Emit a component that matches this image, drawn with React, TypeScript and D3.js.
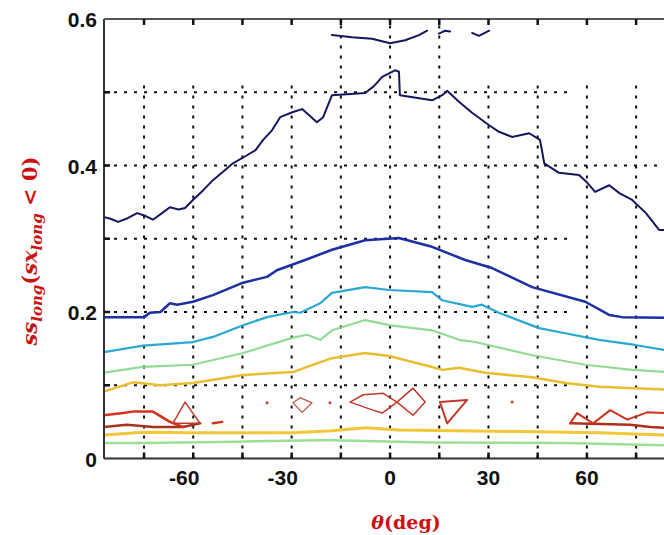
import React from "react";
import * as d3 from "d3";

// ---- data (theta in deg, value) ----
const navyTopA: [number, number][] = [[-17.7,0.578],[-11.6,0.575],[-5.5,0.573],[0,0.567],[4.6,0.571],[8.8,0.578],[11.3,0.584]];
const navyTopB: [number, number][] = [[14.9,0.580],[16.8,0.584],[18.3,0.583]];
const navyTopC: [number, number][] = [[25,0.581],[27.1,0.577],[30.2,0.584]];
const navyMain: [number, number][] = [[-87.5,0.330],[-85,0.327],[-82.9,0.323],[-80,0.328],[-77.1,0.335],[-74.5,0.331],[-72.3,0.326],[-69.5,0.335],[-67.1,0.343],[-64.5,0.340],[-62.5,0.342],[-60.1,0.353],[-57,0.366],[-54.0,0.380],[-51,0.391],[-47.9,0.403],[-43.6,0.414],[-41,0.421],[-38.7,0.435],[-36,0.448],[-33.5,0.466],[-29.6,0.473],[-26.8,0.477],[-24.5,0.468],[-22.3,0.459],[-20.4,0.466],[-17.7,0.496],[-7.6,0.499],[-5,0.508],[-2.4,0.521],[1.5,0.530],[2.7,0.528],[3.0,0.496],[12.8,0.489],[15.9,0.496],[17.4,0.502],[21.0,0.487],[25,0.472],[30.2,0.455],[33.2,0.446],[37.2,0.439],[42.4,0.444],[45.7,0.435],[47.0,0.403],[51.5,0.390],[57.6,0.387],[60,0.377],[62.5,0.364],[66.8,0.373],[70,0.362],[73.8,0.353],[78,0.335],[82.0,0.312],[84,0.312]];
const blueLine: [number, number][] = [[-87.5,0.193],[-75,0.193],[-73.2,0.199],[-70,0.200],[-67.1,0.212],[-64.9,0.210],[-60.1,0.214],[-54,0.223],[-44.8,0.240],[-37.5,0.248],[-34.5,0.257],[-25.9,0.271],[-17.7,0.285],[-7.6,0.298],[2.7,0.301],[12.8,0.289],[22.9,0.271],[31.1,0.260],[43.3,0.234],[59.5,0.214],[66.8,0.196],[70.7,0.193],[84,0.192]];
const cyanLine: [number, number][] = [[-87.5,0.145],[-75.3,0.154],[-60.1,0.159],[-54,0.166],[-44.8,0.182],[-37.5,0.193],[-29.6,0.200],[-27.4,0.199],[-21.3,0.212],[-17.7,0.226],[-7.6,0.234],[-0.3,0.230],[12.8,0.227],[15.9,0.216],[25,0.207],[28,0.210],[33.2,0.199],[45.4,0.178],[53.4,0.171],[63.7,0.162],[74.7,0.155],[84,0.148]];
const greenLine: [number, number][] = [[-87.5,0.117],[-75.3,0.125],[-60.1,0.128],[-44.8,0.144],[-29.6,0.165],[-25.3,0.169],[-21.3,0.162],[-17.7,0.175],[-7.6,0.189],[-0.3,0.182],[12.8,0.175],[21,0.162],[25.9,0.159],[43.3,0.141],[59.5,0.128],[73.8,0.121],[84,0.118]];
const yellowLine: [number, number][] = [[-87.5,0.091],[-78.4,0.104],[-70.1,0.100],[-60.1,0.103],[-44.8,0.114],[-29.6,0.118],[-25.3,0.125],[-17.7,0.137],[-7.6,0.144],[-0.3,0.140],[12.8,0.125],[15.9,0.121],[21,0.124],[29,0.117],[43.3,0.111],[53.4,0.103],[63.7,0.098],[84,0.094]];
const goldLow: [number, number][] = [[-87.5,0.032],[-75.3,0.036],[-60.1,0.035],[-29.6,0.035],[-17.7,0.038],[-7.6,0.042],[2.7,0.039],[53.4,0.036],[63.7,0.035],[84,0.032]];
const greenLow: [number, number][] = [[-87.5,0.021],[-75.3,0.021],[-47,0.023],[-21.3,0.025],[-17.7,0.025],[12.8,0.022],[53.4,0.021],[84,0.018]];
const redUpperLeft: [number, number][] = [[-87.5,0.059],[-81.4,0.062],[-78.4,0.064],[-72.3,0.064],[-67.1,0.050],[-63.1,0.043]];
const redLowerLeft: [number, number][] = [[-87.5,0.043],[-80.2,0.046],[-72.3,0.043],[-63.1,0.043],[-57.9,0.048]];
const redTriangleL: [number, number][] = [[-66.2,0.048],[-62.5,0.077],[-57.9,0.048],[-66.2,0.048]];
const redDash: [number, number][] = [[-54,0.048],[-51.2,0.050]];
const redDiamondL: [number, number][] = [[-29.6,0.076],[-27.4,0.083],[-23.8,0.076],[-26.8,0.063],[-29.6,0.076]];
const redDiamondC1: [number, number][] = [[-12.2,0.077],[-8.2,0.087],[-2.1,0.089],[2.1,0.077],[-2.4,0.062],[-5.2,0.066],[-12.2,0.077]];
const redDiamondC2: [number, number][] = [[2.1,0.077],[7,0.096],[10.7,0.077],[7,0.059],[2.1,0.077]];
const redTriangleR: [number, number][] = [[15.2,0.077],[23.5,0.080],[17.4,0.048],[15.2,0.077]];
const redDots: [number, number][] = [[-37.5,0.076],[-18.3,0.076],[37.2,0.077]];
const redUpperRight: [number, number][] = [[54.9,0.048],[57,0.062],[61.9,0.048],[67.1,0.066],[72.3,0.053],[78.4,0.063],[84,0.062]];
const redLowerRight: [number, number][] = [[54.9,0.048],[73.2,0.046],[79.3,0.043],[84,0.042]];

const xTickLabels = [-60, -30, 0, 30, 60];
const xGrid = [-75, -60, -45, -30, -15, 0, 15, 30, 45, 60, 75];
const yTickLabels = [0, 0.2, 0.4, 0.6];
const yGrid = [0.1, 0.2, 0.3, 0.4, 0.5];

const W = 664, H = 535;
const L = 104, R = 664, T = 19, B = 458.5;

export default function App() {
  const x = d3.scaleLinear().domain([-87.2, 83.5]).range([L, R]);
  const y = d3.scaleLinear().domain([0, 0.6]).range([B, T]);
  const line = d3.line<[number, number]>().x(d => x(d[0])).y(d => y(d[1]));

  const series: { d: [number, number][]; c: string; w: number; o?: number }[] = [
    { d: greenLow, c: "#8fdc8a", w: 2.5, o: 0.9 },
    { d: goldLow, c: "#f2c83a", w: 3 },
    { d: yellowLine, c: "#e9be2e", w: 2.5 },
    { d: greenLine, c: "#86d68a", w: 2.2, o: 0.9 },
    { d: cyanLine, c: "#2aa8d4", w: 2.2 },
    { d: blueLine, c: "#1e2fa6", w: 2.5 },
    { d: navyMain, c: "#15165e", w: 2 },
    { d: navyTopA, c: "#15165e", w: 2 },
    { d: navyTopB, c: "#15165e", w: 2 },
    { d: navyTopC, c: "#15165e", w: 2 },
    { d: redLowerLeft, c: "#a8321e", w: 2.5 },
    { d: redUpperLeft, c: "#d4301c", w: 2.5 },
    { d: redTriangleL, c: "#c0392a", w: 1.5 },
    { d: redDash, c: "#d4301c", w: 2.5 },
    { d: redDiamondL, c: "#c0554a", w: 1.3 },
    { d: redDiamondC1, c: "#c0392a", w: 1.5 },
    { d: redDiamondC2, c: "#c0392a", w: 1.5 },
    { d: redTriangleR, c: "#c0392a", w: 2 },
    { d: redLowerRight, c: "#b0301e", w: 2.5 },
    { d: redUpperRight, c: "#cc3520", w: 2 },
  ];

  const gridFull = new Set([-15, 0, 15]);

  return (
    <svg width={W} height={H} style={{ position: "absolute", left: 0, top: 0, background: "#fff" }}>
      <defs>
        <clipPath id="plot">
          <rect x={L} y={T} width={R - L} height={B - T} />
        </clipPath>
      </defs>
      {/* grid */}
      <g stroke="#111" strokeWidth={2} strokeDasharray="3,7" fill="none">
        {xGrid.map(g => (
          <line key={"gx" + g} x1={x(g)} x2={x(g)} y1={B} y2={gridFull.has(g) ? T : y(0.515)} />
        ))}
        {yGrid.map(g => (
          <line key={"gy" + g} x1={L} x2={g === 0.4 ? R : x(55)} y1={y(g)} y2={y(g)} />
        ))}
      </g>
      {/* series */}
      <g clipPath="url(#plot)" fill="none" strokeLinejoin="round" strokeLinecap="round">
        {series.map((s, i) => (
          <path key={i} d={line(s.d) || ""} stroke={s.c} strokeWidth={s.w} opacity={s.o ?? 1} />
        ))}
        {redDots.map((p, i) => (
          <circle key={"rd" + i} cx={x(p[0])} cy={y(p[1])} r={1.5} fill="#c04030" stroke="none" />
        ))}
      </g>
      {/* axes frame */}
      <g stroke="#333" strokeWidth={2} fill="none">
        <line x1={L} x2={L} y1={T} y2={B} />
        <line x1={L} x2={R} y1={B} y2={B} />
        <line x1={L} x2={R} y1={T} y2={T} stroke="#555" />
      </g>
      {/* ticks */}
      <g stroke="#111" strokeWidth={2.5}>
        {xGrid.map(g => (
          <g key={"tx" + g}>
            <line x1={x(g)} x2={x(g)} y1={B} y2={B - 6} />
            <line x1={x(g)} x2={x(g)} y1={T} y2={T + 6} />
          </g>
        ))}
        {[0.1, 0.2, 0.3, 0.4, 0.5].map(g => (
          <line key={"ty" + g} x1={L} x2={L + 6} y1={y(g)} y2={y(g)} />
        ))}
      </g>
      {/* tick labels */}
      <g fontFamily="Liberation Sans, Arial, sans-serif" fontWeight="bold" fontSize={21} fill="#111">
        {xTickLabels.map(t => (
          <text key={"xl" + t} x={x(t) + (t < 0 ? -9 : 0)} y={485} textAnchor="middle">
            {String(t)}
          </text>
        ))}
        {yTickLabels.map(t => (
          <text key={"yl" + t} x={97} y={y(t) + 8} textAnchor="end">
            {String(t)}
          </text>
        ))}
      </g>
      {/* axis titles */}
      <text x={406} y={529} textAnchor="middle" fill="#cc1111" fontFamily="DejaVu Serif, serif" fontWeight="bold" fontSize={19}>
        <tspan fontStyle="italic">θ</tspan>(deg)
      </text>
      <text transform={`translate(37,251) rotate(-90)`} textAnchor="middle" fill="#cc1111" fontFamily="DejaVu Serif, serif" fontWeight="bold" fontSize={21}>
        <tspan fontStyle="italic">ss</tspan>
        <tspan fontStyle="italic" fontSize={15} dy={5}>long</tspan>
        <tspan dy={-5}>(</tspan>
        <tspan fontStyle="italic">sx</tspan>
        <tspan fontStyle="italic" fontSize={15} dy={5}>long</tspan>
        <tspan dy={-5}> &lt; 0)</tspan>
      </text>
    </svg>
  );
}
